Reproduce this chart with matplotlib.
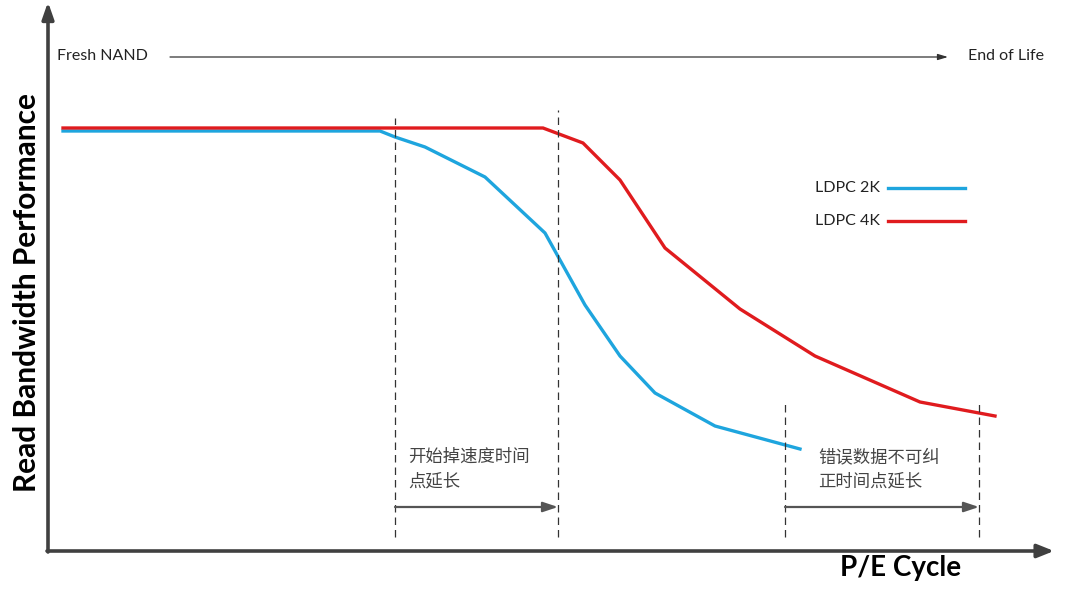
import matplotlib
matplotlib.use('Agg')
import matplotlib.pyplot as plt

# chart units: origin at the corner of the axes, 1 unit ~ 1 px
pe_2k = [15, 332, 347, 377, 437, 497, 512, 537, 572, 607, 667, 752]
bw_2k = [420, 420, 414, 404, 374, 318, 291, 246, 195, 158, 125, 102]

pe_4k = [15, 495, 535, 572, 617, 692, 767, 872, 947]
bw_4k = [423, 423, 408, 371, 303, 242, 195, 149, 135]

series_labels = ['LDPC 2K', 'LDPC 4K']
marker_x = [347, 510, 737, 931]
marker_top = [433, 441, 151, 151]
span_labels = ['开始掉速度时间\n点延长', '错误数据不可纠\n正时间点延长']

BLUE = '#1ea5de'
RED = '#e01b1e'
AXIS = '#404040'

plt.rcParams['font.family'] = ['Lato', 'DejaVu Sans']

fig = plt.figure(figsize=(10.75, 5.94), dpi=100)
ax = fig.add_axes([0, 0, 1, 1])
ax.set_xlim(-48, 1027)
ax.set_ylim(-43, 551)
ax.axis('off')

# curves
ax.plot(pe_2k, bw_2k, color=BLUE, lw=2.4, solid_joinstyle='miter')
ax.plot(pe_4k, bw_4k, color=RED, lw=2.4, solid_joinstyle='miter')

# dashed guides
for x, top in zip(marker_x, marker_top):
    ax.plot([x, x], [14, top], color='#333333', lw=0.9, ls=(0, (6, 4)))

# span arrows + notes
for (x0, x1), txt, tx in zip([(marker_x[0], marker_x[1]), (marker_x[2], marker_x[3])],
                             span_labels, [360, 770]):
    ax.annotate('', xy=(x1, 44), xytext=(x0, 44),
                arrowprops=dict(arrowstyle='-|>,head_length=0.9,head_width=0.3',
                                color='#555555', lw=1.6, shrinkA=0, shrinkB=0))
    ax.text(tx, 82, txt, fontsize=12.5, color='#444444', va='center', ha='left',
            linespacing=1.45, family=['Noto Sans CJK SC', 'DejaVu Sans'])

# legend
for y, lab, col in zip([363, 330], series_labels, [BLUE, RED]):
    ax.text(767, y, lab, fontsize=11.5, va='center', ha='left', color='#222222')
    ax.plot([840, 917], [y, y], color=col, lw=2.4)

# lifetime arrow on top
ax.text(9, 495, 'Fresh NAND', fontsize=11.5, va='center', ha='left', color='#222222')
ax.text(920, 495, 'End of Life', fontsize=11.5, va='center', ha='left', color='#222222')
ax.annotate('', xy=(900, 494), xytext=(122, 494),
            arrowprops=dict(arrowstyle='-|>,head_length=0.6,head_width=0.18',
                            color='#333333', lw=0.9, shrinkA=0, shrinkB=0))

# axes with arrow heads
ax.annotate('', xy=(1006, 0), xytext=(-1, 0),
            arrowprops=dict(arrowstyle='-|>,head_length=1.0,head_width=0.4',
                            color=AXIS, lw=2.6, shrinkA=0, shrinkB=0))
ax.annotate('', xy=(0, 549), xytext=(0, -1),
            arrowprops=dict(arrowstyle='-|>,head_length=1.0,head_width=0.35',
                            color=AXIS, lw=2.6, shrinkA=0, shrinkB=0))

ax.text(792, -17, 'P/E Cycle', fontsize=20, fontweight='bold', va='center', ha='left', color='black')
ax.text(-21, 258, 'Read Bandwidth Performance', fontsize=21.5, fontweight='bold',
        rotation=90, va='center', ha='center', color='black')

fig.savefig('out.png', dpi=100, facecolor='white')
